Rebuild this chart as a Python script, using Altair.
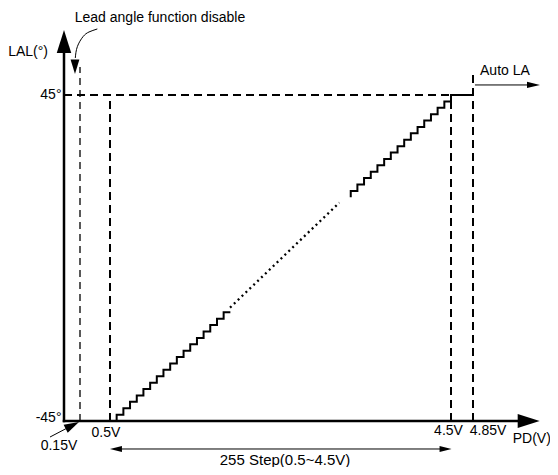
import altair as alt
import pandas as pd

# ---------------- values ----------------
# staircase (drawn at every 5th of the 255 steps): lower run and upper run
low_pd = [0.5, 0.578, 0.657, 0.735, 0.814, 0.892, 0.971, 1.049, 1.127, 1.206,
          1.284, 1.363, 1.441, 1.520, 1.598, 1.676, 1.755, 1.833, 1.912]
low_lal = [-45, -43.24, -41.47, -39.71, -37.94, -36.18, -34.41, -32.65, -30.88, -29.12,
           -27.35, -25.59, -23.82, -22.06, -20.29, -18.53, -16.76, -15.00, -15.00]
up_pd = [3.324, 3.324, 3.402, 3.480, 3.559, 3.637, 3.716, 3.794, 3.873, 3.951,
         4.029, 4.108, 4.186, 4.265, 4.343, 4.422, 4.500, 4.85]
up_lal = [16.76, 18.53, 20.29, 22.06, 23.82, 25.59, 27.35, 29.12, 30.88, 32.65,
          34.41, 36.18, 37.94, 39.71, 41.47, 43.24, 45.00, 45.00]
# dotted continuation between the two runs
dot_pd = [1.908, 3.19]
dot_lal = [-13.7, 15.27]

# guide (dashed) lines
thick_guides = {"pd": [0.5, 4.5, 4.85, 0.0], "pd2": [0.5, 4.5, 4.85, 4.5],
                "lal": [-45, -45, -45, 45], "lal2": [45, 45, 51.4, 45]}
thin_guides = {"pd": [0.15], "pd2": [0.15], "lal": [-45], "lal2": [52.7]}

# axes
axes = {"pd": [0, 0], "pd2": [0, 5.36], "lal": [-45, -45], "lal2": [58, -45]}

# annotation arrow shafts
shafts = {"pd": [-0.131, 4.869, 0.570], "pd2": [0.078, 5.437, 4.436],
          "lal": [-49.42, 47.77, -52.73], "lal2": [-46.2, 47.77, -52.73]}
lead_pd = [0.352, 0.255, 0.185, 0.125, 0.106]
lead_lal = [63.23, 62.40, 61.10, 58.34, 55.22]

# arrow heads
head_pd = [0, 5.39, 0.103, 0.078, 5.437, 0.570, 4.436]
head_lal = [59.8, -45, 52.8, -46.2, 47.77, -52.73, -52.73]
head_angle = [0, 90, 180, 62.6, 90, 270, 90]
head_len = [23, 22, 14.7, 15, 13, 12, 12]
head_kind = ["big", "big", "mid", "mid", "slim", "slim", "slim"]

# labels
label_text = ["Lead angle function disable", "LAL(°)", "45°", "-45°", "0.15V", "0.5V",
              "4.5V", "4.85V", "PD(V)", "Auto LA", "255 Step(0.5~4.5V)"]
label_pd = [1.0865, -0.15, -0.0234, -0.0234, -0.047, 0.453, 4.471, 4.996, 5.42, 4.918, 2.553]
label_lal = [66.13, 56.88, 45, -44.17, -51.9, -48.18, -47.76, -47.76, -49.97, 51.63, -55.8]
label_align = ["center", "right", "right", "right", "center", "center", "center",
               "center", "center", "left", "center"]
label_size = [14, 14, 14, 14, 14, 14, 14, 14, 14, 14, 15]

# ---------------- chart ----------------
xs = alt.Scale(domain=[0, 0.15, 0.5, 4.5, 4.85, 5.5], range=[56, 72, 102, 443, 465, 532],
               nice=False, zero=False)
ys = alt.Scale(domain=[-45, 45], range=[413, 87], nice=False, zero=False)


def X(f="pd"):
    return alt.X(f"{f}:Q", scale=xs, axis=None)


def Y(f="lal"):
    return alt.Y(f"{f}:Q", scale=ys, axis=None)


def seg_layer(d, **mark):
    return alt.Chart(pd.DataFrame(d)).mark_rule(color="black", **mark).encode(
        x=X(), x2="pd2:Q", y=Y(), y2="lal2:Q")


thick = seg_layer(thick_guides, strokeWidth=2, strokeDash=[8, 5])
thin = seg_layer(thin_guides, strokeWidth=1.3, strokeDash=[7, 5])
axis_l = seg_layer(axes, strokeWidth=2.5, strokeCap="square")
shaft_l = seg_layer(shafts, strokeWidth=1)

stairs = pd.DataFrame({
    "pd": low_pd + up_pd,
    "lal": low_lal + up_lal,
    "part": ["low"] * len(low_pd) + ["up"] * len(up_pd),
    "i": list(range(len(low_pd))) + list(range(len(up_pd))),
})
stair_l = alt.Chart(stairs).mark_line(interpolate="step-after", color="black",
                                       strokeWidth=2).encode(
    x=X(), y=Y(), detail="part:N", order="i:Q")

dots = pd.DataFrame({"pd": dot_pd, "lal": dot_lal})
dot_l = alt.Chart(dots).mark_line(color="black", strokeWidth=2.3, strokeDash=[2, 3.4],
                                  strokeCap="butt").encode(x=X(), y=Y())

lead = pd.DataFrame({"pd": lead_pd, "lal": lead_lal, "i": list(range(len(lead_pd)))})
lead_l = alt.Chart(lead).mark_line(color="black", strokeWidth=1, interpolate="natural").encode(
    x=X(), y=Y(), order="i:Q")

shapes = {"big": "M0,-1L0.63,1L-0.63,1Z", "mid": "M0,-1L0.6,1L-0.6,1Z",
          "slim": "M0,-1L0.48,1L-0.48,1Z"}
heads = pd.DataFrame({
    "pd": head_pd, "lal": head_lal, "angle": head_angle,
    "size": [v * v for v in head_len],
    "shape": [shapes[k] for k in head_kind],
})
head_l = alt.Chart(heads).mark_point(filled=True, color="black", opacity=1,
                                     strokeWidth=0).encode(
    x=X(), y=Y(),
    shape=alt.Shape("shape:N", scale=None),
    size=alt.Size("size:Q", scale=None),
    angle=alt.Angle("angle:Q", scale=None),
)

labels = pd.DataFrame({"text": label_text, "pd": label_pd, "lal": label_lal,
                       "align": label_align, "fs": label_size})


def text_layer(al):
    return alt.Chart(labels).transform_filter(alt.datum.align == al).mark_text(
        align=al, baseline="middle", font="Liberation Sans", color="black"
    ).encode(x=X(), y=Y(), text="text:N", size=alt.Size("fs:Q", scale=None))


chart = alt.layer(
    thick, thin, dot_l, stair_l, axis_l, shaft_l, lead_l, head_l,
    text_layer("center"), text_layer("right"), text_layer("left"),
).properties(
    width=542, height=459, padding=0,
    autosize=alt.AutoSizeParams(type="none"),
    background="white",
).configure_view(strokeWidth=0)

chart.save("out.html", embed_options={"renderer": "svg", "actions": False})
